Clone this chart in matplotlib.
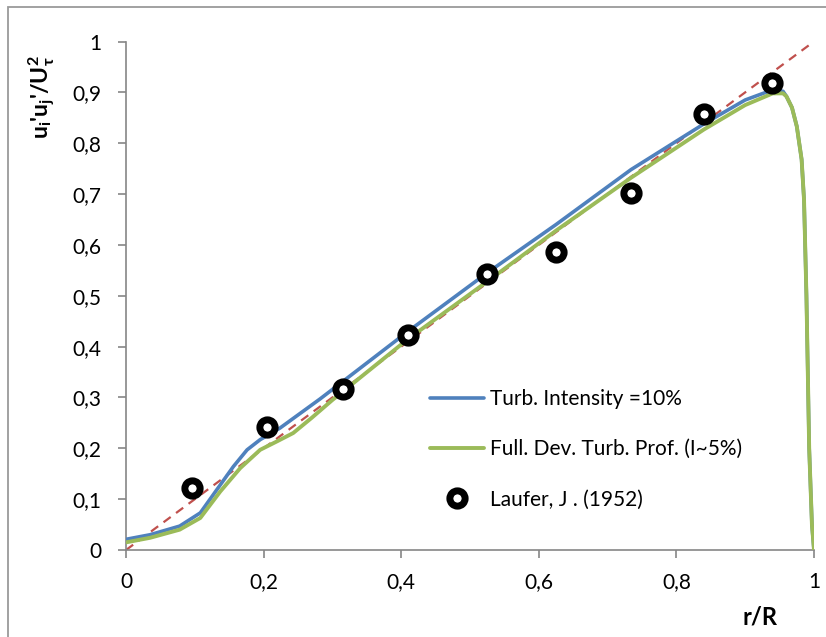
import matplotlib
matplotlib.use("Agg")
import matplotlib.pyplot as plt
from matplotlib.ticker import FuncFormatter, MultipleLocator
from matplotlib.patches import Rectangle

plt.rcParams['font.family'] = ['Lato', 'DejaVu Sans']
plt.rcParams['mathtext.fontset'] = 'custom'
plt.rcParams['mathtext.rm'] = 'Lato'
plt.rcParams['mathtext.bf'] = 'Lato:bold'
plt.rcParams['mathtext.it'] = 'Lato:italic'

# Turb. Intensity = 10%
blue_x = [0, 0.035, 0.078, 0.108, 0.137, 0.156, 0.176, 0.195, 0.224, 0.282, 0.41, 0.525,
          0.625, 0.734, 0.84, 0.90, 0.94, 0.955, 0.960, 0.968, 0.975, 0.982, 0.9855, 0.989, 0.993, 0.997, 1.0]
blue_y = [0.021, 0.03, 0.047, 0.073, 0.128, 0.164, 0.197, 0.217, 0.240, 0.297, 0.43, 0.545,
          0.64, 0.748, 0.838, 0.885, 0.905, 0.902, 0.892, 0.87, 0.833, 0.768, 0.689, 0.5, 0.2, 0.05, 0.0]

# Full. Dev. Turb. Prof. (I~5%)
green_x = [0, 0.035, 0.078, 0.108, 0.137, 0.166, 0.195, 0.22, 0.243, 0.27, 0.30, 0.41, 0.525, 0.625,
           0.734, 0.84, 0.90, 0.94, 0.955, 0.960, 0.968, 0.975, 0.982, 0.9855, 0.989, 0.993, 0.997, 1.0]
green_y = [0.015, 0.024, 0.04, 0.063, 0.115, 0.161, 0.197, 0.214, 0.23, 0.26, 0.295, 0.415, 0.528, 0.628,
           0.732, 0.827, 0.875, 0.898, 0.898, 0.892, 0.87, 0.833, 0.768, 0.689, 0.5, 0.2, 0.05, 0.0]

# Laufer, J. (1952)
laufer_x = [0.0955, 0.205, 0.315, 0.410, 0.525, 0.625, 0.734, 0.840, 0.939]
laufer_y = [0.1215, 0.2415, 0.317, 0.422, 0.543, 0.587, 0.703, 0.858, 0.919]

# reference line
ref_x = [0.0, 1.0]
ref_y = [0.0, 1.0]

W, H = 826, 637
fig = plt.figure(figsize=(W / 100, H / 100), dpi=100)
ax = fig.add_axes([126 / W, 1 - 550 / H, (814 - 126) / W, (550 - 41.5) / H])

ax.plot(ref_x, ref_y, color='#C0504D', lw=1.6, dashes=(4, 3), zorder=2)
ax.plot(blue_x, blue_y, color='#4F81BD', lw=2.6, solid_joinstyle='round',
        solid_capstyle='round', label='Turb. Intensity =10%', zorder=3)
ax.plot(green_x, green_y, color='#9BBB59', lw=2.8, solid_joinstyle='round',
        solid_capstyle='round', label='Full. Dev. Turb. Prof. (I~5%)', zorder=4)
ax.plot(laufer_x, laufer_y, ls='none', marker='o', ms=11, mfc='white', mec='black',
        mew=5, label='Laufer, J . (1952)', zorder=5, clip_on=False)

ax.set_xlim(0, 1)
ax.set_ylim(0, 1)
ax.xaxis.set_major_locator(MultipleLocator(0.2))
ax.yaxis.set_major_locator(MultipleLocator(0.1))

def fmt(v, pos):
    s = f"{v:.1f}"
    if s == "0.0":
        return "0"
    if s == "1.0":
        return "1"
    return s.replace('.', ',')

ax.xaxis.set_major_formatter(FuncFormatter(fmt))
ax.yaxis.set_major_formatter(FuncFormatter(fmt))

gray = '#868686'
for side in ['top', 'right']:
    ax.spines[side].set_visible(False)
for side in ['left', 'bottom']:
    ax.spines[side].set_color(gray)
    ax.spines[side].set_linewidth(1.2)
ax.tick_params(axis='both', direction='out', length=6, width=1.2, color=gray,
               labelsize=15, labelcolor='black')
ax.tick_params(axis='x', pad=10)
ax.tick_params(axis='y', pad=12)

fig.text(42 / W, 1 - 97 / H, r"$\mathbf{u_i}$'$\mathbf{u_j}$'/$\mathbf{U_{\tau}^{2}}$",
         rotation=90, ha='center', va='center', fontsize=16.5, fontweight='bold')
fig.text(778 / W, 1 - 617 / H, 'r/R', ha='right', va='center', fontsize=17, fontweight='bold')

leg = ax.legend(loc='upper left', bbox_to_anchor=(430 / W, 1 - 389 / H),
                bbox_transform=fig.transFigure, frameon=False, fontsize=15,
                handlelength=2.6, handletextpad=0.3, labelspacing=1.45,
                borderpad=0, borderaxespad=0)

fig.patches.append(Rectangle((8 / W, -0.1), 1.2, 1 - 7 / H + 0.1, transform=fig.transFigure,
                             fill=False, edgecolor='#9a9a9a', lw=1.3, clip_on=False))

fig.savefig('out.png', dpi=100)
